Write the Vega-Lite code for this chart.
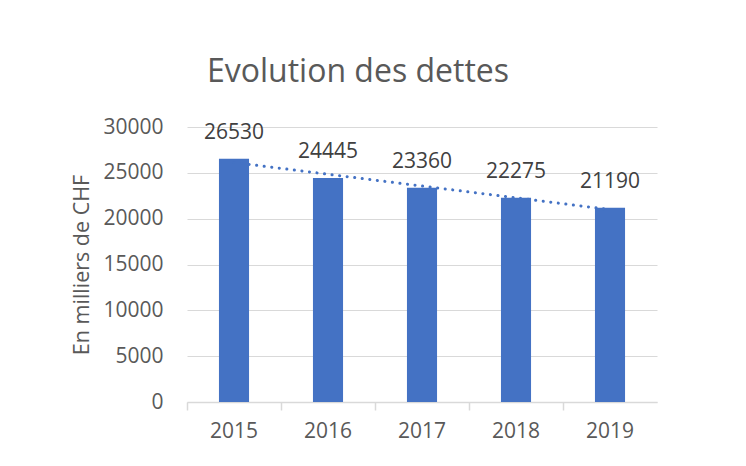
{
  "$schema": "https://vega.github.io/schema/vega-lite/v6.json",
  "width": 470,
  "height": 275,
  "autosize": "none",
  "padding": {"left": 187, "top": 127, "right": 89, "bottom": 64},
  "background": "white",
  "title": {
    "text": "Evolution des dettes",
    "fontSize": 32,
    "font": "Open Sans",
    "fontWeight": "normal",
    "color": "#595959",
    "anchor": "middle",
    "baseline": "alphabetic",
    "dx": -64,
    "offset": 2
  },
  "data": {
    "values": [
      {"year": 2015, "value": 26530},
      {"year": 2016, "value": 24445},
      {"year": 2017, "value": 23360},
      {"year": 2018, "value": 22275},
      {"year": 2019, "value": 21190}
    ]
  },
  "config": {
    "view": {"stroke": null},
    "font": "Open Sans"
  },
  "encoding": {
    "x": {
      "field": "year",
      "type": "ordinal",
      "title": null,
      "scale": {"paddingInner": 0, "paddingOuter": 0},
      "axis": {
        "labelAngle": 0,
        "labelFontSize": 21,
        "labelColor": "#595959",
        "labelFont": "Open Sans",
        "domainColor": "#d9d9d9",
        "domainWidth": 1.5,
        "tickColor": "#d9d9d9",
        "tickWidth": 1.5,
        "tickSize": 8,
        "bandPosition": 0,
        "labelPadding": 10
      }
    },
    "y": {
      "field": "value",
      "type": "quantitative",
      "title": "En milliers de CHF",
      "scale": {"domain": [0, 30000], "nice": false},
      "axis": {
        "values": [0, 5000, 10000, 15000, 20000, 25000, 30000],
        "format": "d",
        "labelFontSize": 21,
        "labelColor": "#595959",
        "labelFont": "Open Sans",
        "labelPadding": 24,
        "ticks": false,
        "domain": false,
        "gridColor": "#d9d9d9",
        "gridWidth": 1.2,
        "titleFontSize": 21.5,
        "titleFont": "Open Sans",
        "titleFontWeight": "normal",
        "titleColor": "#595959",
        "titlePadding": 9
      }
    }
  },
  "layer": [
    {
      "mark": {"type": "bar", "color": "#4472C4", "width": {"band": 0.32}}
    },
    {
      "mark": {"type": "text", "fontSize": 21, "color": "#404040", "baseline": "alphabetic", "dy": -20, "font": "Open Sans"},
      "encoding": {"text": {"field": "value", "type": "quantitative", "format": "d"}}
    },
    {
      "transform": [{"regression": "value", "on": "year", "method": "linear"}],
      "mark": {"type": "line", "color": "#4472C4", "strokeWidth": 3, "strokeDash": [0.1, 7.5], "strokeCap": "round"},
      "encoding": {
        "x": {"field": "year", "type": "ordinal"},
        "y": {"field": "value", "type": "quantitative"}
      }
    }
  ]
}
